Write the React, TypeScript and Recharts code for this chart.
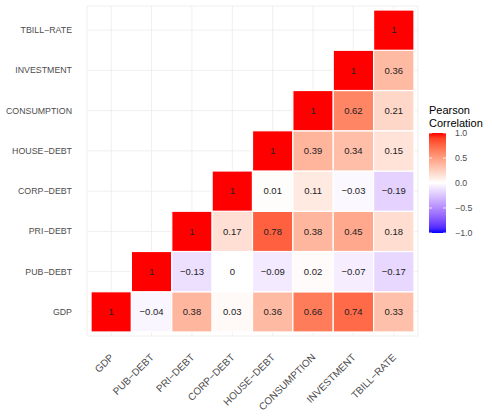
import { ScatterChart, Scatter, XAxis, YAxis, CartesianGrid } from "recharts";

// variables, bottom row first (x axis left to right, y axis bottom to top)
const vars = [
  "GDP",
  "PUB−DEBT",
  "PRI−DEBT",
  "CORP−DEBT",
  "HOUSE−DEBT",
  "CONSUMPTION",
  "INVESTMENT",
  "TBILL−RATE",
];

// lower triangle of the correlation matrix, each row starts on the diagonal
const gdpRow = [1, -0.04, 0.38, 0.03, 0.36, 0.66, 0.74, 0.33];
const pubDebtRow = [1, -0.13, 0, -0.09, 0.02, -0.07, -0.17];
const priDebtRow = [1, 0.17, 0.78, 0.38, 0.45, 0.18];
const corpDebtRow = [1, 0.01, 0.11, -0.03, -0.19];
const houseDebtRow = [1, 0.39, 0.34, 0.15];
const consumptionRow = [1, 0.62, 0.21];
const investmentRow = [1, 0.36];
const tbillRow = [1];

const rows = [gdpRow, pubDebtRow, priDebtRow, corpDebtRow, houseDebtRow, consumptionRow, investmentRow, tbillRow];

const legendBreaks = [1, 0.5, 0, -0.5, -1];

const cells = rows.flatMap((vals, r) =>
  vals.map((v, i) => ({ x: r + i, y: r, value: v }))
);

const W = 492;
const H = 417;
const M = { top: 6, right: 74, left: 0, bottom: 0 };
const Y_W = 87;
const X_H = 81;
const plotW = W - M.left - M.right - Y_W;
const plotH = H - M.top - M.bottom - X_H;
const cellW = plotW / 8.2;
const cellH = plotH / 8.2;

const FONT = "'Liberation Sans', Arial, Helvetica, sans-serif";

// scale_fill_gradient2(low = "blue", mid = "white", high = "red") -> Lab interpolation
const LAB_WHITE = [100, 0, 0];
const LAB_RED = [53.24, 80.09, 67.2];
const LAB_BLUE = [32.3, 79.19, -107.86];

function labToHex([L, a, b]: number[]) {
  const fy = (L + 16) / 116;
  const fx = fy + a / 500;
  const fz = fy - b / 200;
  const inv = (t: number) => (t ** 3 > 0.008856 ? t ** 3 : (t - 16 / 116) / 7.787);
  const X = 0.95047 * inv(fx);
  const Y = inv(fy);
  const Z = 1.08883 * inv(fz);
  const lin = [
    3.2406 * X - 1.5372 * Y - 0.4986 * Z,
    -0.9689 * X + 1.8758 * Y + 0.0415 * Z,
    0.0557 * X - 0.204 * Y + 1.057 * Z,
  ];
  return (
    "#" +
    lin
      .map((c) => {
        const g = c <= 0.0031308 ? 12.92 * c : 1.055 * Math.pow(c, 1 / 2.4) - 0.055;
        const n = Math.round(Math.min(1, Math.max(0, g)) * 255);
        return n.toString(16).padStart(2, "0");
      })
      .join("")
  );
}

function fillFor(v: number) {
  const end = v >= 0 ? LAB_RED : LAB_BLUE;
  const t = Math.abs(v);
  return labToHex(LAB_WHITE.map((w, i) => w + (end[i] - w) * t));
}

const minus = (s: string) => s.replace("-", "−");

function Tile(props: any) {
  const { cx, cy, payload } = props;
  if (cx == null || cy == null) return null;
  return (
    <g>
      <rect
        x={cx - cellW / 2}
        y={cy - cellH / 2}
        width={cellW}
        height={cellH}
        fill={fillFor(payload.value)}
        stroke="#ffffff"
        strokeWidth={1.2}
      />
      <text
        x={cx}
        y={cy}
        dy="0.35em"
        textAnchor="middle"
        fontSize={9.5}
        fontFamily={FONT}
        fill="#222222"
      >
        {minus(String(payload.value))}
      </text>
    </g>
  );
}

function XTick(props: any) {
  const { x, payload } = props;
  return (
    <text
      transform={`translate(${x + 3},358) rotate(-45)`}
      textAnchor="end"
      fontSize={10}
      fontFamily={FONT}
      fill="#4d4d4d"
    >
      {vars[payload.value]}
    </text>
  );
}

function YTick(props: any) {
  const { y, payload } = props;
  return (
    <text x={72} y={y} dy="0.35em" textAnchor="end" fontSize={8.8} fontFamily={FONT} fill="#4d4d4d">
      {vars[payload.value]}
    </text>
  );
}

function ColorLegend() {
  const barX = 429;
  const barTop = 133;
  const barH = 100;
  const barW = 17;
  const stops = Array.from({ length: 21 }, (_, i) => 1 - i * 0.1);
  return (
    <svg width={W} height={H} style={{ position: "absolute", left: 0, top: 0, pointerEvents: "none" }}>
      <defs>
        <linearGradient id="pearson" x1="0" y1="0" x2="0" y2="1">
          {stops.map((v, i) => (
            <stop key={i} offset={`${(i / 20) * 100}%`} stopColor={fillFor(v)} />
          ))}
        </linearGradient>
      </defs>
      <text x={barX} y={114} fontSize={11} fontFamily={FONT} fill="#000">
        Pearson
      </text>
      <text x={barX} y={127} fontSize={11} fontFamily={FONT} fill="#000">
        Correlation
      </text>
      <rect x={barX} y={barTop} width={barW} height={barH} fill="url(#pearson)" />
      {legendBreaks.map((b) => {
        const y = barTop + ((1 - b) / 2) * barH;
        return (
          <g key={b}>
            <line x1={barX} x2={barX + 3} y1={y} y2={y} stroke="#fff" strokeWidth={0.8} />
            <line x1={barX + barW - 3} x2={barX + barW} y1={y} y2={y} stroke="#fff" strokeWidth={0.8} />
            <text x={455} y={y} dy="0.35em" fontSize={8.8} fontFamily={FONT} fill="#4d4d4d">
              {minus(b.toFixed(1))}
            </text>
          </g>
        );
      })}
    </svg>
  );
}

export default function App() {
  return (
    <div style={{ position: "absolute", left: 0, top: 0, width: W, height: H, background: "#fff" }}>
      <ScatterChart width={W} height={H} margin={M}>
        <CartesianGrid stroke="#ebebeb" strokeWidth={0.8} />
        <XAxis
          type="number"
          dataKey="x"
          domain={[-0.6, 7.6]}
          ticks={[0, 1, 2, 3, 4, 5, 6, 7]}
          interval={0}
          height={X_H}
          axisLine={false}
          tickLine={false}
          tick={<XTick />}
        />
        <YAxis
          type="number"
          dataKey="y"
          domain={[-0.6, 7.6]}
          ticks={[0, 1, 2, 3, 4, 5, 6, 7]}
          interval={0}
          width={Y_W}
          axisLine={false}
          tickLine={false}
          tick={<YTick />}
        />
        <Scatter data={cells} shape={<Tile />} isAnimationActive={false} />
      </ScatterChart>
      <ColorLegend />
    </div>
  );
}
